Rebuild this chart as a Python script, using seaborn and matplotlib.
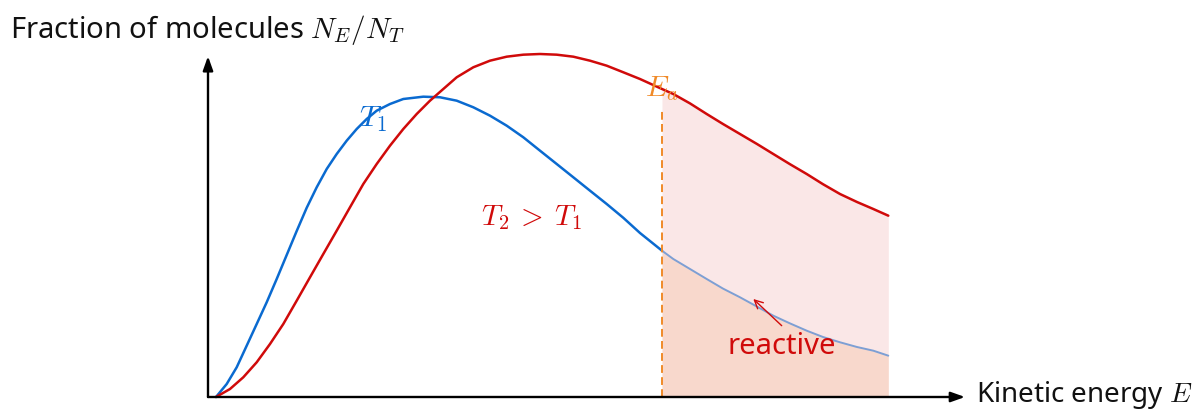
import numpy as np
import pandas as pd
import matplotlib
matplotlib.use("Agg")
import matplotlib.pyplot as plt
import seaborn as sns

# Energy distribution at the lower temperature T1 (arbitrary units)
energy_t1 = [0.0, 1.07, 2.07, 3.07, 4.07, 5.07, 6.07, 7.07, 8.07, 9.07, 10.07,
             11.07, 12.07, 13.07, 14.07, 15.07, 16.07, 17.4, 18.73, 20.73,
             22.4, 24.07, 25.73, 27.4, 29.07, 30.73, 32.4, 34.07, 35.73, 37.4,
             39.07, 40.73, 42.4, 44.6, 45.73, 47.4, 49.07, 50.7, 52.4, 54.1,
             55.73, 57.4, 59.07, 60.7, 62.4, 64.1, 65.73, 67.23]
fraction_t1 = [0.0, 3.25, 7.43, 12.83, 18.25, 23.68, 29.5, 35.5, 41.5, 47.3,
               52.43, 57.0, 60.75, 64.08, 67.0, 69.5, 71.58, 73.25, 74.5, 75.08,
               74.93, 74.08, 72.43, 70.33, 67.83, 64.93, 61.58, 58.25, 54.93,
               51.58, 48.25, 44.8, 41.0, 36.58, 34.5, 32.0, 29.5, 27.1, 24.93,
               22.6, 20.33, 18.4, 16.58, 15.0, 13.68, 12.5, 11.58, 10.33]

# Energy distribution at the higher temperature T2
energy_t2 = [0.0, 1.4, 2.73, 4.07, 5.4, 6.73, 8.07, 9.4, 10.73, 12.07, 13.4,
             14.73, 16.07, 17.4, 18.73, 20.07, 21.4, 22.73, 24.07, 25.73, 27.4,
             29.07, 30.73, 32.4, 34.07, 35.73, 37.4, 39.07, 40.73, 42.4, 44.6,
             45.73, 47.4, 49.07, 50.7, 52.4, 54.1, 55.73, 57.4, 59.07, 60.7,
             62.4, 64.1, 65.73, 67.23]
fraction_t2 = [0.0, 2.0, 4.93, 8.68, 13.25, 18.25, 24.08, 29.93, 35.75, 41.58,
               47.43, 53.25, 58.25, 62.83, 67.0, 70.75, 74.08, 77.0, 79.93,
               82.43, 84.08, 85.08, 85.58, 85.75, 85.58, 85.08, 84.08, 82.83,
               81.18, 79.5, 77.0, 75.75, 73.4, 70.75, 68.25, 65.75, 63.25,
               60.75, 58.2, 55.75, 53.2, 50.75, 48.75, 47.0, 45.33]

activation_energy = 44.6

BLUE = "#0a6ad0"
RED = "#d00a0a"
ORANGE = "#f08a28"

sns.set_theme(style="white")
plt.rcParams["font.family"] = ["Noto Sans", "DejaVu Sans"]
plt.rcParams["mathtext.fontset"] = "cm"

fig = plt.figure(figsize=(12.02, 4.10), dpi=100)
ax = fig.add_axes([0, 0, 1, 1])
ax.set_xlim(-21.6, 98.6)
ax.set_ylim(-3.0, 99.5)
ax.axis("off")

t1 = pd.DataFrame({"E": energy_t1, "f": fraction_t1})
t2 = pd.DataFrame({"E": energy_t2, "f": fraction_t2})

line_kw = dict(sort=False, estimator=None, solid_joinstyle="round",
               solid_capstyle="round")

# curves, with the T1 tail inside the reactive region washed out
sns.lineplot(data=t1[t1.E <= activation_energy], x="E", y="f", ax=ax,
             color=BLUE, lw=1.8, **line_kw)
sns.lineplot(data=t2, x="E", y="f", ax=ax, color=RED, lw=1.8, **line_kw)
sns.lineplot(data=t1[t1.E >= activation_energy], x="E", y="f", ax=ax,
             color="#7d9fd4", lw=1.4, **line_kw)

# shaded reactive regions
hot = t2[t2.E >= activation_energy]
cold = t1[t1.E >= activation_energy]
ax.fill_between(hot.E, 0, hot.f, color="#e04848", alpha=0.13, lw=0, zorder=1)
ax.fill_between(cold.E, 0, cold.f, color="#f08a40", alpha=0.16, lw=0, zorder=1)

# activation energy marker
ax.plot([activation_energy, activation_energy], [0, 72], color=ORANGE,
        lw=1.4, ls=(0, (4, 2.2)), zorder=3)
ax.text(42.9, 77.3, r"$E_a$", color=ORANGE, fontsize=21,
        ha="left", va="center")

# axes with arrowheads
arrow = dict(arrowstyle="-|>,head_length=0.7,head_width=0.25",
             color="black", lw=1.7, shrinkA=0, shrinkB=0)
ax.annotate("", xy=(-0.8, 85.2), xytext=(-0.8, 0), arrowprops=arrow)
ax.annotate("", xy=(74.9, 0), xytext=(-0.8, 0), arrowprops=arrow)

ax.text(-20.6, 92.0, r"Fraction of molecules $N_E/N_T$", fontsize=21,
        ha="left", va="center", color="#111111")
ax.text(76.0, 0.7, r"Kinetic energy $E$", fontsize=20,
        ha="left", va="center", color="#111111")

# curve labels
ax.text(15.7, 69.7, r"$T_1$", color=BLUE, fontsize=21.5, ha="center", va="center")
ax.text(31.6, 45.2, r"$T_2\:>\:T_1$", color=RED, fontsize=21, ha="center", va="center")

ax.text(56.6, 12.8, "reactive", color=RED, fontsize=21, ha="center", va="center")
ax.annotate("", xy=(53.73, 24.5), xytext=(56.57, 17.83),
            arrowprops=dict(arrowstyle="->,head_length=0.5,head_width=0.25",
                            color=RED, lw=1.0, shrinkA=0, shrinkB=0))

fig.savefig("out.png", dpi=100)
